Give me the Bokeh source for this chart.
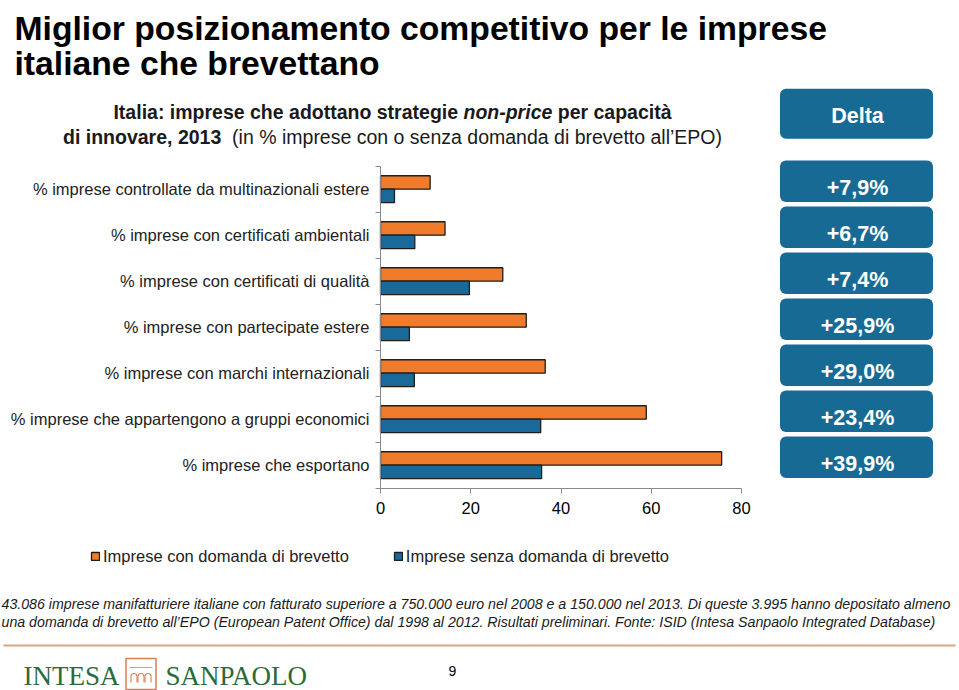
import math
from bokeh.plotting import figure
from bokeh.models import (Range1d, LinearAxis, FixedTicker, Legend, LegendItem,
                          ColumnDataSource)
from bokeh.embed import file_html
from bokeh.resources import INLINE
from bokeh.core.properties import value

# ---------------- data ----------------
categories = [
    "% imprese controllate da multinazionali estere",
    "% imprese con certificati ambientali",
    "% imprese con certificati di qualità",
    "% imprese con partecipate estere",
    "% imprese con marchi internazionali",
    "% imprese che appartengono a gruppi economici",
    "% imprese che esportano",
]
con_brevetto = [11.0, 14.3, 27.1, 32.3, 36.5, 58.9, 75.6]
senza_brevetto = [3.1, 7.6, 19.7, 6.4, 7.5, 35.5, 35.7]
delta = [7.9, 6.7, 7.4, 25.9, 29.0, 23.4, 39.9]
x_ticks = [0, 20, 40, 60, 80]
series_names = ["Imprese con domanda di brevetto", "Imprese senza domanda di brevetto"]

title_lines = ["Miglior posizionamento competitivo per le imprese",
               "italiane che brevettano"]
footnote_lines = [
    "43.086  imprese manifatturiere italiane con fatturato superiore a 750.000  euro nel 2008  e a 150.000  nel 2013. Di queste 3.995 hanno depositato almeno",
    "una domanda di brevetto all’EPO (European Patent Office) dal 1998 al 2012. Risultati preliminari. Fonte: ISID (Intesa Sanpaolo Integrated Database)",
]

# ---------------- layout helpers (page pixel -> data) ----------------
W, H = 959, 690
OX = 0
X0, X80 = 380.0, 741.0
SX = (X80 - X0) / 80.0
YB = 487.7
SY = 46.0


def dx(px):
    return (px - X0) / SX


def dy(py):
    return (YB - py) / SY - 0.5


FONTNAME = "Liberation Sans"
FONT = value(FONTNAME)
SERIF = value("Liberation Serif")
ORANGE = "#F07B2A"
BLUE = "#19699A"
BOX = "#176A94"
DARK = "#1E1E1E"

BOLDW = {' ': 278, 'I': 278, 't': 333, 'a': 556, 'l': 278, 'i': 278, ':': 333, 'm': 889,
         'p': 611, 'r': 389, 'e': 556, 's': 556, 'c': 556, 'h': 611, 'd': 611, 'o': 611,
         'n': 611, 'g': 611, '-': 333, 'à': 556, 'v': 556, ',': 278}
REGW = {' ': 278, '(': 333, ')': 333, 'i': 222, 'n': 556, '%': 889, 'm': 833, 'p': 556,
        'r': 333, 'e': 556, 's': 500, 'c': 500, 'o': 556, 'z': 500, 'a': 556, 'd': 556,
        'b': 556, 'v': 500, 't': 278, 'l': 222, '’': 222, 'E': 667, 'P': 667, 'O': 778}


def tw(s, size, bold):
    tab = BOLDW if bold else REGW
    return sum(tab.get(ch, 556) for ch in s) / 1000.0 * size


n = len(categories)
pos = [n - 1 - k for k in range(n)]
BAR_H = 0.293

src = ColumnDataSource(dict(
    cat=categories,
    pos=pos,
    con=con_brevetto,
    senza=senza_brevetto,
    y_con=[p_ + 0.146 for p_ in pos],
    y_senza=[p_ - 0.146 for p_ in pos],
    box_top=[p_ + 0.624 for p_ in pos],
    box_bot=[p_ - 0.278 for p_ in pos],
    txt_y=[p_ + 0.02 for p_ in pos],
    dtxt=["+" + ("%.1f" % d).replace(".", ",") + "%" for d in delta],
))

p = figure(width=W, height=H,
           x_range=Range1d(dx(OX), dx(OX + W)),
           y_range=Range1d(dy(OX + H), dy(OX)),
           x_axis_type=None, y_axis_type=None,
           toolbar_location=None, output_backend="svg",
           min_border=0, outline_line_color=None)
p.background_fill_color = "white"
p.border_fill_color = "white"

# ---------------- bars ----------------
r_con = p.hbar(y="y_con", left=0, right="con", height=BAR_H, source=src,
               fill_color=ORANGE, line_color=DARK, line_width=1.3)
r_senza = p.hbar(y="y_senza", left=0, right="senza", height=BAR_H, source=src,
                 fill_color=BLUE, line_color=DARK, line_width=1.3)

# ---------------- axes ----------------
xaxis = LinearAxis(fixed_location=-0.5, bounds=(0, 80),
                   ticker=FixedTicker(ticks=x_ticks),
                   major_tick_out=5, major_tick_in=0,
                   minor_tick_line_color=None,
                   axis_line_color="#8a8a8a", major_tick_line_color="#8a8a8a",
                   major_label_text_font=FONTNAME, major_label_text_font_size="16.5px",
                   major_label_text_color="#000000", major_label_standoff=9)
p.add_layout(xaxis, "below")

ytick_axis = LinearAxis(fixed_location=0, bounds=(-0.5, n - 0.5),
                        ticker=FixedTicker(ticks=[i - 0.5 for i in range(n + 1)]),
                        major_tick_out=5, major_tick_in=0,
                        minor_tick_line_color=None,
                        axis_line_color="#8a8a8a", major_tick_line_color="#8a8a8a",
                        major_label_text_color=None)
p.add_layout(ytick_axis, "left")

ylabel_axis = LinearAxis(fixed_location=0,
                         ticker=FixedTicker(ticks=pos),
                         major_label_overrides={pp: c for pp, c in zip(pos, categories)},
                         major_tick_line_color=None, major_tick_out=0, major_tick_in=0,
                         minor_tick_line_color=None, axis_line_color=None,
                         major_label_standoff=11,
                         major_label_text_font=FONTNAME, major_label_text_font_size="16.5px",
                         major_label_text_color="#222222")
p.add_layout(ylabel_axis, "left")

# ---------------- legend ----------------
legend = Legend(items=[LegendItem(label=series_names[0], renderers=[r_con]),
                       LegendItem(label=series_names[1], renderers=[r_senza])],
                orientation="horizontal", location=(90, 124),
                glyph_width=10, glyph_height=10, label_standoff=3, spacing=44,
                padding=0, margin=0, border_line_color=None, background_fill_alpha=0,
                label_text_font=FONTNAME, label_text_font_size="16.5px",
                label_text_color="#222222", label_height=20)
p.add_layout(legend)

# ---------------- delta boxes ----------------
def rounded_quad(**kw):
    try:
        return p.quad(border_radius=6, **kw)
    except Exception:
        return p.quad(**kw)


rounded_quad(left=dx(779.5), right=dx(932.5), top="box_top", bottom="box_bot",
             source=src, fill_color=BOX, line_color=None)
rounded_quad(left=[dx(779.5)], right=[dx(932.5)], top=[dy(88.3)], bottom=[dy(138.3)],
             fill_color=BOX, line_color=None)
p.text(x=dx(857), y="txt_y", text="dtxt", source=src, text_align="center",
       text_baseline="middle", text_font=FONT, text_font_style="bold",
       text_font_size="21.5px", text_color="white")
p.text(x=[dx(857)], y=[dy(115)], text=["Delta"], text_align="center",
       text_baseline="middle", text_font=FONT, text_font_style="bold",
       text_font_size="21.5px", text_color="white")

# ---------------- title ----------------
p.text(x=[dx(14), dx(14)], y=[dy(27.5), dy(62.5)], text=title_lines,
       text_align="left", text_baseline="alphabetic", text_font=FONT,
       text_font_style="bold", text_font_size="33.7px", text_color="#000000")

# ---------------- subtitle (mixed styles) ----------------
SUB = 19.5
s1a = "Italia: imprese che adottano strategie"
s1b = "non-price"
s1c = "per capacità"
s2a = "di innovare, 2013"
s2b = "(in % imprese con o senza domanda di brevetto all’EPO)"
sp_b = tw(" ", SUB, True)
sp_r = tw(" ", SUB, False)
w1 = tw(s1a, SUB, True) + sp_b + tw(s1b, SUB, True) + sp_b + tw(s1c, SUB, True)
w2 = tw(s2a, SUB, True) + 2 * sp_r + tw(s2b, SUB, False)
cx = 392.0
x1 = cx - w1 / 2
x2 = cx - w2 / 2
x1b = x1 + tw(s1a, SUB, True) + sp_b
x1c = x1b + tw(s1b, SUB, True) + sp_b
x2b = x2 + tw(s2a, SUB, True) + 2 * sp_r
base1, base2 = 111.5, 136.0
p.text(x=[dx(x1), dx(x1c), dx(x2)],
       y=[dy(base1), dy(base1), dy(base2)], text=[s1a, s1c, s2a],
       text_align="left", text_baseline="alphabetic", text_font=FONT,
       text_font_style="bold", text_font_size="19.5px", text_color="#1a1a1a")
p.text(x=[dx(x1b)], y=[dy(base1)], text=[s1b],
       text_align="left", text_baseline="alphabetic", text_font=FONT,
       text_font_style="bold italic", text_font_size="19.5px", text_color="#1a1a1a")
p.text(x=[dx(x2b)], y=[dy(base2)], text=[s2b],
       text_align="left", text_baseline="alphabetic", text_font=FONT,
       text_font_style="normal", text_font_size="19.5px", text_color="#1a1a1a")

# ---------------- footnote ----------------
p.text(x=[dx(1), dx(1)], y=[dy(603), dy(621)], text=footnote_lines,
       text_align="left", text_baseline="alphabetic", text_font=FONT,
       text_font_style="italic", text_font_size="14.2px", text_color="#1a1a1a")

# ---------------- bottom band: line, logo, page number ----------------
p.segment(x0=[dx(3)], x1=[dx(955)], y0=[dy(645)], y1=[dy(645)],
          line_color="#D9A47E", line_width=2)
GREEN = "#2B6B3B"
LOGO_OR = "#D47F55"
p.text(x=[dx(23), dx(165)], y=[dy(675.5), dy(675.5)], text=["INTESA", "SANPAOLO"],
       text_align="left", text_baseline="middle", text_font=SERIF,
       text_font_size="27px", text_color=GREEN)
p.quad(left=[dx(125.5)], right=[dx(155.5)], top=[dy(658)], bottom=[dy(689)],
       fill_color=None, line_color=LOGO_OR, line_width=1.5)
p.segment(x0=[dx(129)], x1=[dx(152)], y0=[dy(667)], y1=[dy(667)],
          line_color="#C9A27A", line_width=1)
arch_c = [133.5, 140.5, 147.5]
p.arc(x=[dx(a) for a in arch_c], y=[dy(676)] * 3, radius=3, radius_units="screen",
      start_angle=0, end_angle=math.pi, line_color=LOGO_OR, line_width=1.1)
legs = [a + s for a in arch_c for s in (-3, 3)]
p.segment(x0=[dx(a) for a in legs], x1=[dx(a) for a in legs],
          y0=[dy(676)] * len(legs), y1=[dy(682)] * len(legs),
          line_color=LOGO_OR, line_width=1.1)
p.text(x=[dx(452)], y=[dy(670)], text=["9"], text_align="center",
       text_baseline="middle", text_font=FONT, text_font_size="14px",
       text_color="#000000")

open("out.html", "w").write(file_html(p, INLINE))
